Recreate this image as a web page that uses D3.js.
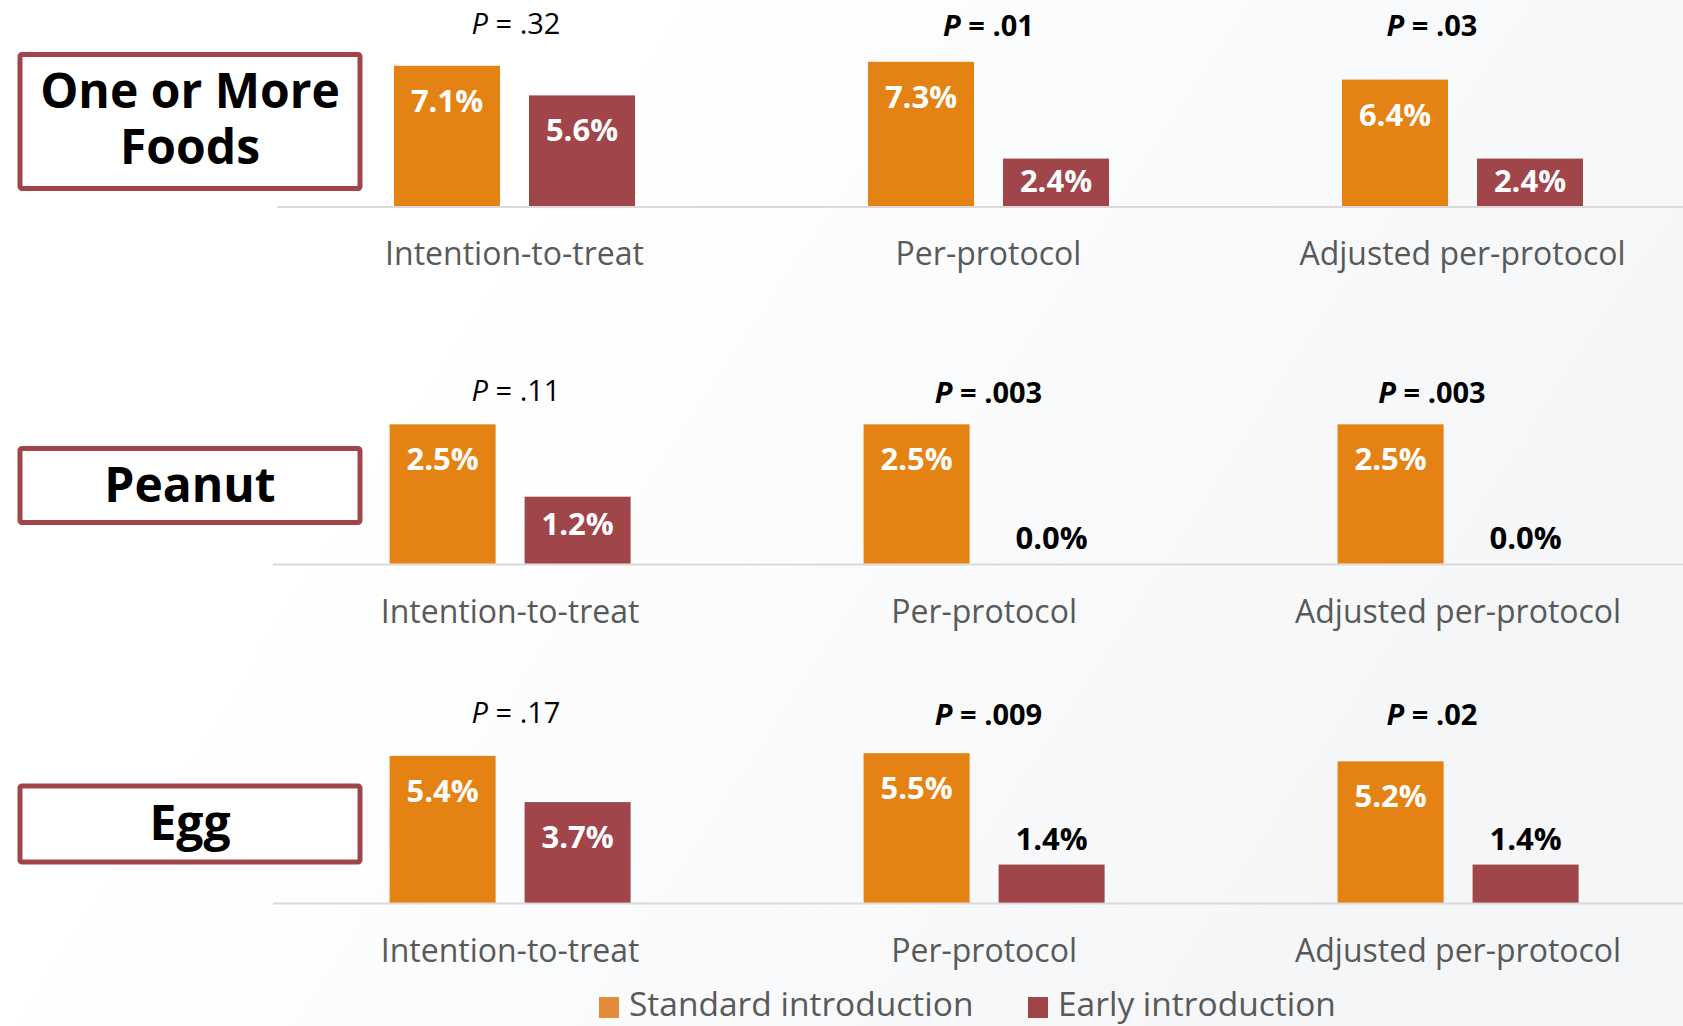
<!DOCTYPE html>
<html>
<head>
<meta charset="utf-8">
<script src="https://cdn.jsdelivr.net/npm/d3@7"></script>
<style>
  html, body { margin: 0; padding: 0; background: #ffffff; }
  svg { display: block; font-family: "Open Sans", "Noto Sans", sans-serif; }
</style>
</head>
<body>
<svg id="chart" width="1683" height="1026"></svg>
<script>
// Analysis groups along the x axis of each panel
const analyses = ["Intention-to-treat", "Per-protocol", "Adjusted per-protocol"];
// Outcome panels, top to bottom
const outcomes = ["One or More Foods", "Peanut", "Egg"];
const seriesNames = ["Standard introduction", "Early introduction"];

// Percent with food allergy, per outcome (rows) and analysis (columns)
const standardValues = [
  [7.1, 7.3, 6.4],
  [2.5, 2.5, 2.5],
  [5.4, 5.5, 5.2]
];
const earlyValues = [
  [5.6, 2.4, 2.4],
  [1.2, 0.0, 0.0],
  [3.7, 1.4, 1.4]
];
// P values for standard vs early comparison
const pValues = [
  [".32", ".01", ".03"],
  [".11", ".003", ".003"],
  [".17", ".009", ".02"]
];

const colors = { "Standard introduction": "#E48313", "Early introduction": "#A0454A" };
const legendColors = { "Standard introduction": "#E38B38", "Early introduction": "#A0454A" };

// Panel geometry
const panels = [
  { baseline: 206, x0: 394, lineX: 277, yMax: 8, plotH: 158, pY: 33.5, titleY: 54.5, titleH: 134 },
  { baseline: 563.5, x0: 389.6, lineX: 273, yMax: 3, plotH: 167, pY: 400.5, titleY: 448.5, titleH: 74 },
  { baseline: 902.6, x0: 389.6, lineX: 273, yMax: 6, plotH: 163, pY: 722.5, titleY: 786, titleH: 76 }
];
// horizontal centres of the P value captions
const pLabelX = [516, 988.5, 1432];

const svg = d3.select("#chart");
const W = 1683, H = 1026;

// soft background wash
const defs = svg.append("defs");
const grad = defs.append("linearGradient").attr("id", "bg")
  .attr("x1", "0").attr("y1", "0").attr("x2", "1").attr("y2", "0.4");
grad.append("stop").attr("offset", "0.35").attr("stop-color", "#ffffff");
grad.append("stop").attr("offset", "1").attr("stop-color", "#f4f6f8");
svg.append("rect").attr("width", W).attr("height", H).attr("fill", "url(#bg)");

const groupStep = 474, barW = 106, pairW = 241;

function insideOffset(h) {
  if (h < 55) return h / 2 - 1;
  return Math.min(35, 27 + (h - 66) * 0.3);
}

panels.forEach((p, r) => {
  const g = svg.append("g");

  const x = d3.scaleBand()
    .domain(analyses)
    .range([p.x0, p.x0 + 2 * groupStep + pairW])
    .paddingInner(1 - pairW / groupStep)
    .paddingOuter(0);
  const xs = d3.scaleBand()
    .domain(seriesNames)
    .range([0, x.bandwidth()])
    .paddingInner(1 - barW / (pairW - barW))
    .paddingOuter(0);
  const y = d3.scaleLinear().domain([0, p.yMax]).range([p.baseline, p.baseline - p.plotH]);

  // baseline
  g.append("line")
    .attr("x1", p.lineX).attr("x2", W)
    .attr("y1", p.baseline + 1).attr("y2", p.baseline + 1)
    .attr("stroke", "#dadada").attr("stroke-width", 2);

  const rows = analyses.map((a, i) => ({
    analysis: a,
    idx: i,
    p: pValues[r][i],
    bars: [
      { series: seriesNames[0], value: standardValues[r][i] },
      { series: seriesNames[1], value: earlyValues[r][i] }
    ]
  }));

  const grp = g.selectAll("g.grp").data(rows).join("g")
    .attr("class", "grp")
    .attr("transform", d => `translate(${x(d.analysis)},0)`);

  grp.selectAll("rect").data(d => d.bars).join("rect")
    .attr("x", d => xs(d.series))
    .attr("width", xs.bandwidth())
    .attr("y", d => y(d.value))
    .attr("height", d => y(0) - y(d.value))
    .attr("fill", d => colors[d.series]);

  // value labels: inside when the bar is tall enough, above otherwise
  grp.selectAll("text.val").data(d => d.bars).join("text")
    .attr("class", "val")
    .attr("x", d => xs(d.series) + xs.bandwidth() / 2)
    .attr("y", d => {
      const h = y(0) - y(d.value);
      if (h >= 42) return y(d.value) + insideOffset(h) + 11;
      return y(d.value) - 26 + 11;
    })
    .attr("text-anchor", "middle")
    .attr("font-size", 31)
    .attr("font-weight", 700)
    .attr("fill", d => (y(0) - y(d.value) >= 42 ? "#ffffff" : "#000000"))
    .text(d => d.value.toFixed(1) + "%");

  // P value above each group
  const sig = d => parseFloat("0" + d.p) < 0.05;
  const pt = grp.append("text")
    .attr("x", d => pLabelX[d.idx] - x(d.analysis))
    .attr("y", d => p.pY + (sig(d) ? 2 : 0))
    .attr("text-anchor", "middle")
    .attr("font-size", 29)
    .attr("fill", "#000000")
    .attr("font-weight", d => (sig(d) ? 700 : 400));
  pt.append("tspan").attr("font-style", "italic").text("P");
  pt.append("tspan").text(d => " = " + d.p);

  // analysis labels
  grp.append("text")
    .attr("x", x.bandwidth() / 2)
    .attr("y", p.baseline + 59)
    .attr("text-anchor", "middle")
    .attr("font-size", 32)
    .attr("fill", "#595959")
    .text(d => d.analysis);

  // outcome title box
  g.append("rect")
    .attr("x", 20).attr("y", p.titleY)
    .attr("width", 340).attr("height", p.titleH)
    .attr("rx", 2)
    .attr("fill", "#ffffff")
    .attr("stroke", "#A0454A").attr("stroke-width", 5);

  const cy = p.titleY + p.titleH / 2;
  const lines = outcomes[r] === "One or More Foods" ? ["One or More", "Foods"] : [outcomes[r]];
  const lh = 56;
  g.append("text")
    .attr("text-anchor", "middle")
    .attr("font-size", 48)
    .attr("font-weight", 700)
    .attr("fill", "#000000")
    .selectAll("tspan").data(lines).join("tspan")
    .attr("x", 190)
    .attr("y", (d, i) => cy + (i - (lines.length - 1) / 2) * lh + 16 - (lines.length > 1 ? 2 : 0))
    .text(d => d);
});

// legend
const legendX = [599, 1028];
const lg = svg.append("g").selectAll("g").data(seriesNames).join("g")
  .attr("transform", (d, i) => `translate(${legendX[i]},997)`);
lg.append("rect").attr("width", 20).attr("height", 21).attr("fill", d => legendColors[d]);
lg.append("text")
  .attr("x", 30).attr("y", 19)
  .attr("font-size", 33.5)
  .attr("fill", "#595959")
  .text(d => d);
</script>
</body>
</html>
